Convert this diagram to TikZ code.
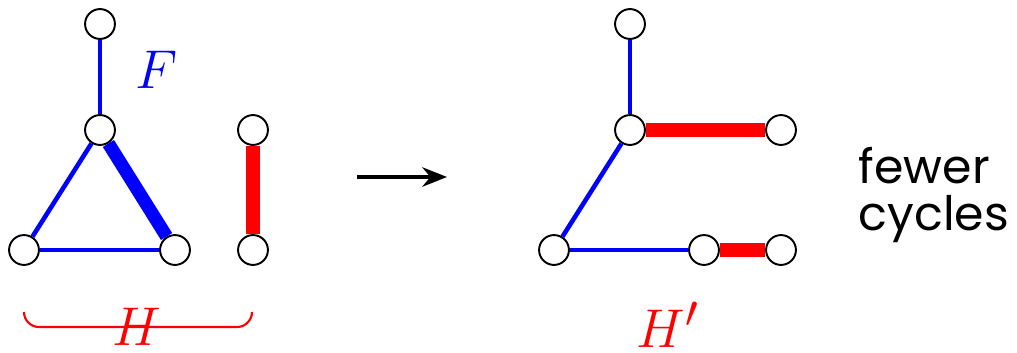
\documentclass[tikz,border=0pt]{standalone}
\usepackage{fontspec}
\usepackage{graphicx}
\usepackage{xcolor}
\usepackage{tikz}
\usetikzlibrary{arrows.meta}
\newfontfamily\wordfont{Poppins}
\newcommand{\biglet}[1]{\scalebox{1.25}{$#1$}}

\begin{document}
\begin{tikzpicture}[
  x=0.02cm,y=-0.02cm,
  vert/.style={circle,draw,fill=white,line width=1.1pt,minimum size=17pt,inner sep=0pt},
  fedge/.style={blue,line width=2.6pt},
  fheavy/.style={blue,line width=7.5pt},
  hedge/.style={red,line width=8pt},
  biglabel/.style={inner sep=0pt,font=\fontsize{24.88}{30}\selectfont}]
\useasboundingbox (0,0) rectangle (1017,352);
% left: F and H
\node[vert] (a1) at (100,24) {};
\node[vert] (a2) at (100,130) {};
\node[vert] (a3) at (24,250) {};
\node[vert] (a4) at (175,250) {};
\node[vert] (a5) at (253,130) {};
\node[vert] (a6) at (253,250) {};
\draw[fedge] (a1) -- (a2);
\draw[fedge] (a2) -- (a3);
\draw[fedge] (a3) -- (a4);
\draw[fheavy] (a2) -- (a4);
\draw[hedge] (a5) -- (a6);
\node[biglabel,blue] (flab) at (157,70) {\biglet{F}};
\draw[red,line width=1.2pt] (24,312) arc[start angle=180,end angle=90,radius=15] -- (237,327)
  arc[start angle=90,end angle=0,radius=15];
\node[biglabel,red] (hlab) at (137,327) {\biglet{H}};
% arrow
\coordinate (p) at (357,177);
\coordinate (q) at (447,177);
\draw[line width=2.3pt,-{Stealth[length=14pt,width=11pt]}] (p) -- (q);
% right: H'
\node[vert] (b1) at (630,24) {};
\node[vert] (b2) at (630,130) {};
\node[vert] (b3) at (781,130) {};
\node[vert] (b4) at (554,250) {};
\node[vert] (b5) at (704,250) {};
\node[vert] (b6) at (781,250) {};
\draw[fedge] (b1) -- (b2);
\draw[fedge] (b2) -- (b4);
\draw[fedge] (b4) -- (b5);
\draw[hedge] (b2) -- (b3);
\draw[hedge] (b5) -- (b6);
\node[biglabel,red] (hplab) at (668,325) {\biglet{H'}};
\node[align=left,inner sep=0pt,font=\wordfont\fontsize{27}{27}\selectfont] (txt) at (934,195) {fewer\\cycles};
\end{tikzpicture}
\end{document}
